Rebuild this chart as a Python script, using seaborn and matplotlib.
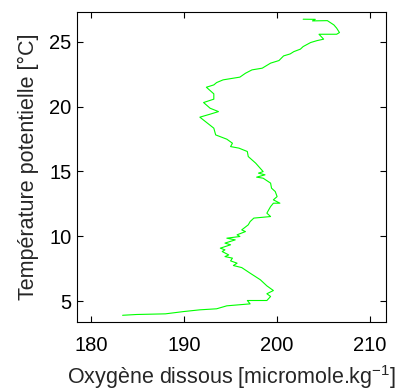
import numpy as np
import pandas as pd
import matplotlib
matplotlib.use('Agg')
import matplotlib.pyplot as plt
import seaborn as sns

# profil, de la surface vers le fond
oxygene = [202.8, 204.1, 203.8, 205.4, 206.1, 206.4, 206.7, 206.4, 204.5, 205.0,
           204.3, 203.6, 202.8, 202.5, 201.8, 201.4, 200.7, 200.2, 199.3, 198.4,
           197.3, 196.6, 196.0, 194.2, 193.5, 193.2, 192.4, 193.2, 193.2, 192.1,
           192.8, 193.7, 192.8, 191.7, 192.3, 193.2, 193.4, 194.6, 195.2, 195.0,
           195.9, 196.8, 196.9, 197.7,
           198.5, 198.0, 198.7, 197.8, 198.5, 199.3, 199.4, 199.8, 200.0, 199.6,
           200.3, 199.6, 199.3, 199.1, 198.9, 199.3, 197.5, 197.1,
           196.9, 196.2, 196.6, 195.7, 196.0, 194.6, 195.5, 194.4, 195.0, 193.9,
           194.4, 194.1, 194.8, 194.4, 195.2, 195.0, 195.7, 195.3, 196.2, 197.1,
           198.2, 198.9, 199.6, 198.9, 199.3, 198.9, 196.8, 197.1,
           194.6, 193.5, 191.7, 190.0, 188.0, 184.9, 183.4]
temperature = [26.75, 26.74, 26.62, 26.64, 26.31, 26.06, 25.72, 25.59, 25.59, 25.21,
               25.10, 24.95, 24.64, 24.44, 24.25, 24.07, 23.92, 23.56, 23.36, 22.97,
               22.84, 22.58, 22.28, 22.07, 21.86, 21.68, 21.50, 20.99, 20.58, 20.32,
               19.88, 19.62, 19.42, 19.19, 18.85, 18.34, 17.82, 17.49, 17.18, 16.92,
               16.80, 16.54, 16.15, 15.64,
               14.99, 14.87, 14.74, 14.56, 14.48, 14.10, 13.71, 13.45, 13.06, 12.81,
               12.55, 12.55, 12.29, 12.04, 11.78, 11.52, 11.40, 11.13,
               10.88, 10.49, 10.36, 10.11, 9.98, 9.85, 9.72, 9.47, 9.34, 9.08,
               8.95, 8.82, 8.56, 8.43, 8.31, 8.10, 7.92, 7.74, 7.58, 7.15,
               6.64, 6.17, 5.81, 5.56, 5.35, 5.04, 5.04, 4.78,
               4.63, 4.40, 4.32, 4.19, 4.01, 3.96, 3.90]

x_ticks = [180, 190, 200, 210]
y_ticks = [5, 10, 15, 20, 25]

df = pd.DataFrame({'O2': oxygene, 'T': temperature})

sns.set_style('ticks')
plt.rcParams['font.family'] = ['Liberation Sans', 'DejaVu Sans']
plt.rcParams['mathtext.default'] = 'regular'

fig = plt.figure(figsize=(4, 3.9), dpi=100)
ax = fig.add_axes([0.1925, 0.175, 0.7725, 0.794])
sns.lineplot(data=df, x='O2', y='T', sort=False, estimator=None,
             color='#00ff00', lw=0.8, ax=ax)

ax.set_xlim(178.5, 211.7)
ax.set_ylim(3.4, 27.3)
ax.set_xticks(x_ticks)
ax.set_yticks(y_ticks)
ax.tick_params(direction='in', top=True, right=True, length=4, width=0.8,
               labelsize=14.5, colors='black', pad=4)
ax.tick_params(axis='x', pad=10)
for s in ax.spines.values():
    s.set_visible(True)
    s.set_linewidth(0.8)
    s.set_color('black')
ax.set_xlabel('Oxygène dissous [micromole.kg$^{-1}$]', fontsize=15.5, labelpad=6)
ax.set_ylabel('Température potentielle [°C]', fontsize=15.5, labelpad=7)

fig.savefig('out.png', dpi=100)
